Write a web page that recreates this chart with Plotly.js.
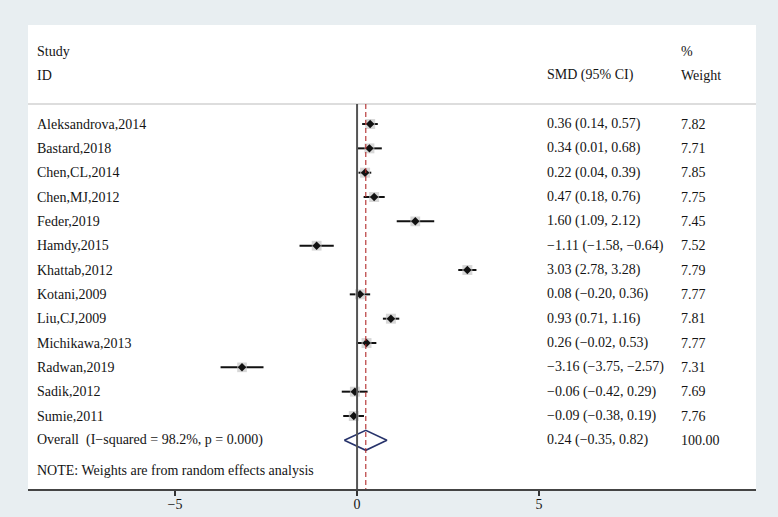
<!DOCTYPE html>
<html><head><meta charset="utf-8">
<script src="https://cdn.plot.ly/plotly-3.0.1.min.js"></script>
<style>html,body{margin:0;padding:0;background:#e8eef1;}#chart{width:778px;height:517px;}</style>
</head><body><div id="chart"></div>
<script>
const studies = ["Aleksandrova,2014","Bastard,2018","Chen,CL,2014","Chen,MJ,2012","Feder,2019","Hamdy,2015","Khattab,2012","Kotani,2009","Liu,CJ,2009","Michikawa,2013","Radwan,2019","Sadik,2012","Sumie,2011"];
const smd   = [0.36, 0.34, 0.22, 0.47, 1.60, -1.11, 3.03, 0.08, 0.93, 0.26, -3.16, -0.06, -0.09];
const lower = [0.14, 0.01, 0.04, 0.18, 1.09, -1.58, 2.78, -0.20, 0.71, -0.02, -3.75, -0.42, -0.38];
const upper = [0.57, 0.68, 0.39, 0.76, 2.12, -0.64, 3.28, 0.36, 1.16, 0.53, -2.57, 0.29, 0.19];
const weights = [7.82, 7.71, 7.85, 7.75, 7.45, 7.52, 7.79, 7.77, 7.81, 7.77, 7.31, 7.69, 7.76];
const overall = {est: 0.24, lo: -0.35, hi: 0.82, weight: "100.00", label: "Overall  (I\u2212squared = 98.2%, p = 0.000)"};
const xTicks = [-5, 0, 5];
const xTickText = ["\u22125", "0", "5"];

const fmt = v => (v < 0 ? "\u2212" : "") + Math.abs(v).toFixed(2);
const rows = studies.map((s, i) => i);
const yOverall = studies.length;
const FONT = "'Liberation Serif', 'Times New Roman', serif";
const TXT = "#141414";
const FS = 14;

const traces = [];
const cx = [], cy = [];
studies.forEach((s, i) => { cx.push(lower[i], upper[i], null); cy.push(i, i, null); });
traces.push({x: cx, y: cy, mode: "lines", line: {color: "#111", width: 2}, hoverinfo: "skip", showlegend: false});
traces.push({x: smd, y: rows, mode: "markers", marker: {symbol: "square", color: "#c6c6c6", size: weights.map(w => 10 * Math.sqrt(w / 7.85)), line: {width: 0}}, hoverinfo: "skip", showlegend: false});
traces.push({x: smd, y: rows, mode: "markers", marker: {symbol: "diamond", color: "#111", size: 6.5}, showlegend: false});
const h = 0.41;
traces.push({x: [overall.lo, overall.est, overall.hi, overall.est, overall.lo], y: [yOverall, yOverall - h, yOverall, yOverall + h, yOverall], mode: "lines", line: {color: "#27336b", width: 1.6}, hoverinfo: "skip", showlegend: false});

const ann = [];
const colStudy = 0.0096, colSMD = 0.7102, colW = 0.8942;
const addT = (xp, y, t) => ann.push({xref: "paper", yref: "y", x: xp, y: y, text: t, showarrow: false, xanchor: "left", yanchor: "middle", font: {family: FONT, size: FS, color: TXT}});
addT(colStudy, -3.0, "Study");
addT(colStudy, -2.01, "ID");
addT(colSMD, -2.01, "SMD (95% CI)");
addT(colW, -3.0, "%");
addT(colW, -2.01, "Weight");
studies.forEach((s, i) => {
  addT(colStudy, i, s);
  addT(colSMD, i, fmt(smd[i]) + " (" + fmt(lower[i]) + ", " + fmt(upper[i]) + ")");
  addT(colW, i, weights[i].toFixed(2));
});
addT(colStudy, yOverall, overall.label);
addT(colSMD, yOverall, fmt(overall.est) + " (" + fmt(overall.lo) + ", " + fmt(overall.hi) + ")");
addT(colW, yOverall, overall.weight);
addT(colStudy, 14.26, "NOTE: Weights are from random effects analysis");

const yTop = -4.07, yBot = 15.0, ySep = -0.82;
const shapes = [
  {type: "line", xref: "paper", yref: "y", x0: 0, x1: 1, y0: ySep, y1: ySep, line: {color: "#d2d2d2", width: 1.5}},
  {type: "line", xref: "x", yref: "y", x0: 0, x1: 0, y0: ySep, y1: yBot, line: {color: "#555", width: 2}},
  {type: "line", xref: "x", yref: "y", x0: overall.est, x1: overall.est, y0: ySep, y1: yBot, line: {color: "#b22a2a", width: 1.1, dash: "5px,3px"}}
];

const layout = {
  width: 778, height: 517,
  margin: {l: 28, r: 22, t: 25, b: 28, pad: 0},
  paper_bgcolor: "#e8eef1", plot_bgcolor: "#ffffff",
  font: {family: FONT, size: FS, color: TXT},
  xaxis: {range: [-9.04, 10.96], tickvals: xTicks, ticktext: xTickText, ticks: "outside", ticklen: 5, tickwidth: 1.2, tickcolor: "#333",
          ticklabelstandoff: -3,
          showline: true, linecolor: "#444", linewidth: 1.5, showgrid: false, zeroline: false, tickfont: {family: FONT, size: FS, color: TXT}},
  yaxis: {range: [yBot, yTop], showticklabels: false, showgrid: false, zeroline: false, showline: false, ticks: ""},
  shapes: shapes, annotations: ann
};
Plotly.newPlot("chart", traces, layout, {displayModeBar: false, staticPlot: true});
</script></body></html>
